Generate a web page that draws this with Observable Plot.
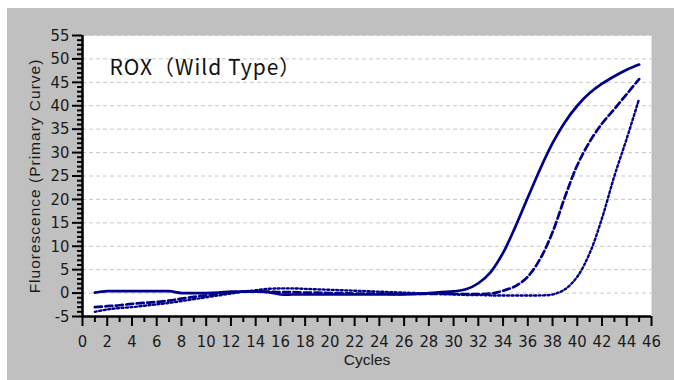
<!DOCTYPE html>
<html>
<head>
<meta charset="utf-8">
<script src="https://cdn.jsdelivr.net/npm/d3@7"></script>
<script src="https://cdn.jsdelivr.net/npm/@observablehq/plot@0.6"></script>
<style>
  html, body { margin: 0; padding: 0; background: #ffffff; }
  #chart { padding: 8px 0 0 7px; width: 667px; height: 372px; }
  #chart svg { display: block; background: #c0c0c0; }
</style>
</head>
<body>
<div id="chart"></div>
<script>
// ---- data ----
const cycles = [1,2,3,4,5,6,7,8,9,10,11,12,13,14,15,16,17,18,19,20,21,22,23,24,25,26,27,28,29,30,31,32,33,34,35,36,37,38,39,40,41,42,43,44,45];
const solidValues = [0.1,0.4,0.4,0.4,0.4,0.4,0.4,0.0,0.0,0.0,0.1,0.3,0.3,0.3,0.2,-0.3,-0.3,-0.3,-0.3,-0.3,-0.3,-0.3,-0.3,-0.3,-0.3,-0.3,-0.2,0.0,0.2,0.35,0.8,2.1,4.5,8.6,14.2,20.4,26.5,32.0,36.5,40.0,42.7,44.7,46.3,47.7,48.8];
const dashedValues = [-3.0,-2.8,-2.6,-2.3,-2.1,-1.9,-1.6,-1.2,-0.8,-0.5,-0.2,0.1,0.3,0.3,0.3,0.2,0.2,0.1,0.1,0.0,0.0,-0.1,-0.1,-0.1,-0.2,-0.2,-0.2,-0.2,-0.2,-0.2,-0.2,-0.2,-0.1,0.5,1.5,3.5,7.3,13.0,20.5,27.3,32.3,36.2,39.3,42.5,45.7];
const dottedValues = [-4.0,-3.5,-3.2,-3.0,-2.7,-2.4,-2.1,-1.7,-1.3,-0.9,-0.5,-0.1,0.3,0.6,0.9,1.0,1.0,0.9,0.8,0.7,0.6,0.5,0.4,0.3,0.2,0.1,0.0,-0.1,-0.2,-0.3,-0.4,-0.4,-0.5,-0.5,-0.5,-0.5,-0.5,-0.3,0.8,3.5,8.5,16.0,25.0,33.0,41.5];
const xMajorTicks = [0,2,4,6,8,10,12,14,16,18,20,22,24,26,28,30,32,34,36,38,40,42,44,46];
const xMinorTicks = [1,3,5,7,9,11,13,15,17,19,21,23,25,27,29,31,33,35,37,39,41,43,45];
const yMajorTicks = [-5,0,5,10,15,20,25,30,35,40,45,50,55];
const yMinorTicks = [-4,-3,-2,-1,1,2,3,4,6,7,8,9,11,12,13,14,16,17,18,19,21,22,23,24,26,27,28,29,31,32,33,34,36,37,38,39,41,42,43,44,46,47,48,49,51,52,53,54];
const titleText = "ROX\uFF08Wild Type\uFF09";
const xLabel = "Cycles";
const yLabel = "Fluorescence (Primary Curve)";

const toRows = vals => cycles.map((c, i) => ({cycle: c, value: vals[i]}));
const solid = toRows(solidValues);
const dashed = toRows(dashedValues);
const dotted = toRows(dottedValues);

const tickFont = "'Liberation Sans Narrow', 'DejaVu Sans Condensed', 'Liberation Sans', sans-serif";
const labelFont = "'Liberation Sans', Arial, sans-serif";
const navy = "#000088";

const chart = Plot.plot({
  width: 667,
  height: 372,
  marginLeft: 75,
  marginRight: 23,
  marginTop: 27,
  marginBottom: 64,
  style: {background: "#c0c0c0", color: "#1a1a1a"},
  x: {domain: [0, 46], axis: null},
  y: {domain: [-5, 55], axis: null},
  marks: [
    Plot.frame({fill: "white", stroke: null}),
    Plot.ruleY(yMajorTicks.filter(d => d > -5), {stroke: "#c8c8c8", strokeWidth: 1, strokeDasharray: "4,3"}),
    Plot.line(solid, {x: "cycle", y: "value", stroke: navy, strokeWidth: 2.7, curve: "catmull-rom"}),
    Plot.line(dashed, {x: "cycle", y: "value", stroke: navy, strokeWidth: 2.7, strokeDasharray: "7,3.5", curve: "catmull-rom"}),
    Plot.line(dotted, {x: "cycle", y: "value", stroke: navy, strokeWidth: 2.4, strokeDasharray: "2,2.5", curve: "catmull-rom"}),
    Plot.axisX({ticks: xMajorTicks, tickSize: 10, tickPadding: 9, tickFormat: d => String(d), stroke: "#000", strokeWidth: 2, fontFamily: tickFont, fontSize: 16.5, fill: "#1a1a1a", label: null}),
    Plot.axisX({ticks: xMinorTicks, tickSize: 6, text: null, stroke: "#000", strokeWidth: 2, label: null}),
    Plot.axisY({ticks: yMajorTicks, tickSize: 10, tickPadding: 3, tickFormat: d => String(d), stroke: "#000", strokeWidth: 2, fontFamily: tickFont, fontSize: 16.5, fill: "#1a1a1a", label: null}),
    Plot.axisY({ticks: yMinorTicks, tickSize: 5, text: null, stroke: "#000", strokeWidth: 2, label: null}),
    Plot.ruleX([0], {stroke: "#000", strokeWidth: 2.5}),
    Plot.ruleY([-5], {stroke: "#000", strokeWidth: 2.5}),
    Plot.text([titleText], {frameAnchor: "top-left", dx: 27, dy: 25, lineAnchor: "top", textAnchor: "start", fontSize: 21, fontFamily: "'Noto Sans CJK JP', 'Noto Sans', sans-serif", fill: "#111"}),
    Plot.text([xLabel], {frameAnchor: "bottom", dy: 48, lineAnchor: "bottom", fontSize: 15.5, fontFamily: labelFont, fill: "#1a1a1a"}),
    Plot.text([yLabel], {frameAnchor: "left", dx: -47, rotate: -90, textAnchor: "middle", lineAnchor: "middle", fontSize: 15.5, fontFamily: labelFont, fill: "#1a1a1a"})
  ]
});
d3.select(chart).selectAll("text")
  .filter(function() { return this.textContent === titleText; })
  .style("letter-spacing", "1px");
d3.select(chart).selectAll("text")
  .filter(function() { return this.textContent === yLabel; })
  .style("letter-spacing", "1px");
document.getElementById("chart").appendChild(chart);
</script>
</body>
</html>
